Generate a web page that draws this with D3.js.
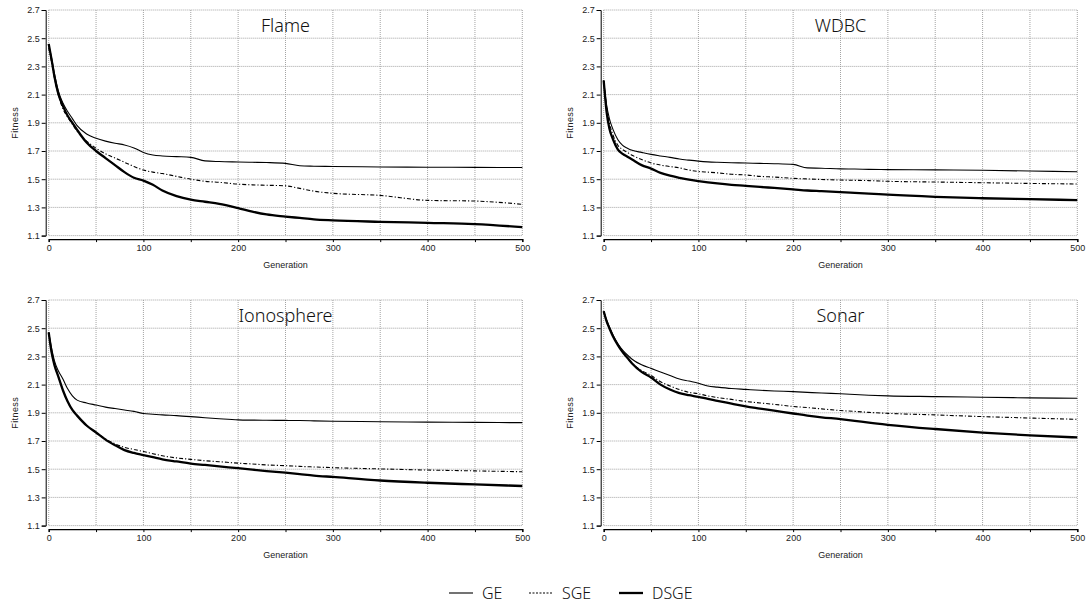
<!DOCTYPE html>
<html>
<head>
<meta charset="utf-8">
<script src="https://cdn.jsdelivr.net/npm/d3@7"></script>
<style>
  html, body { margin: 0; padding: 0; background: #fff; }
  svg { display: block; }
</style>
</head>
<body>
<svg id="chart" width="1088" height="604"></svg>
<script>
// ---------------- DATA ----------------
const datasets = ["Flame", "WDBC", "Ionosphere", "Sonar"];
const seriesNames = ["GE", "SGE", "DSGE"];
const xTicks = [0, 50, 100, 150, 200, 250, 300, 350, 400, 450, 500];
const xTickLabels = ["0", "", "100", "", "200", "", "300", "", "400", "", "500"];
const yTicks = [1.1, 1.3, 1.5, 1.7, 1.9, 2.1, 2.3, 2.5, 2.7];
const yTickLabels = ["1.1", "1.3", "1.5", "1.7", "1.9", "2.1", "2.3", "2.5", "2.7"];

const generations = [0, 3, 6, 10, 15, 20, 25, 30, 40, 50, 60, 70, 80, 90, 100, 110, 120, 135, 150, 165, 180, 200, 215, 230, 250, 265, 280, 300, 350, 400, 450, 500];

const flameGE   = [2.45, 2.36, 2.25, 2.13, 2.04, 1.98, 1.93, 1.88, 1.82, 1.79, 1.77, 1.755, 1.743, 1.722, 1.69, 1.672, 1.665, 1.66, 1.655, 1.63, 1.625, 1.622, 1.62, 1.618, 1.612, 1.595, 1.592, 1.59, 1.587, 1.585, 1.584, 1.583];
const flameSGE  = [2.43, 2.33, 2.22, 2.10, 2.00, 1.94, 1.89, 1.84, 1.77, 1.72, 1.68, 1.65, 1.62, 1.59, 1.565, 1.55, 1.54, 1.52, 1.50, 1.485, 1.478, 1.465, 1.46, 1.457, 1.453, 1.435, 1.415, 1.40, 1.385, 1.35, 1.345, 1.322];
const flameDSGE = [2.46, 2.35, 2.23, 2.11, 2.02, 1.95, 1.90, 1.85, 1.76, 1.70, 1.65, 1.60, 1.55, 1.51, 1.49, 1.46, 1.42, 1.38, 1.355, 1.34, 1.325, 1.295, 1.27, 1.25, 1.235, 1.225, 1.215, 1.208, 1.198, 1.19, 1.182, 1.16];

const wdbcGE    = [2.20, 2.03, 1.93, 1.85, 1.78, 1.74, 1.72, 1.705, 1.69, 1.676, 1.665, 1.655, 1.643, 1.635, 1.628, 1.623, 1.62, 1.617, 1.615, 1.612, 1.61, 1.605, 1.58, 1.578, 1.573, 1.572, 1.57, 1.568, 1.566, 1.563, 1.558, 1.553];
const wdbcSGE   = [2.20, 2.01, 1.90, 1.81, 1.74, 1.71, 1.69, 1.67, 1.64, 1.615, 1.60, 1.59, 1.58, 1.565, 1.555, 1.55, 1.545, 1.535, 1.53, 1.52, 1.515, 1.506, 1.502, 1.498, 1.494, 1.492, 1.49, 1.485, 1.48, 1.475, 1.47, 1.466];
const wdbcDSGE  = [2.20, 1.98, 1.86, 1.78, 1.71, 1.68, 1.66, 1.64, 1.60, 1.575, 1.545, 1.525, 1.51, 1.497, 1.487, 1.478, 1.47, 1.46, 1.453, 1.445, 1.438, 1.428, 1.42, 1.415, 1.408, 1.403, 1.398, 1.39, 1.375, 1.365, 1.358, 1.352];

const ionoGE    = [2.47, 2.36, 2.27, 2.20, 2.14, 2.07, 2.02, 1.99, 1.97, 1.955, 1.94, 1.93, 1.92, 1.91, 1.895, 1.89, 1.885, 1.88, 1.873, 1.865, 1.858, 1.85, 1.848, 1.847, 1.846, 1.845, 1.843, 1.84, 1.837, 1.834, 1.832, 1.83];
const ionoSGE   = [2.47, 2.33, 2.24, 2.16, 2.06, 1.98, 1.92, 1.88, 1.81, 1.76, 1.715, 1.68, 1.655, 1.64, 1.625, 1.61, 1.595, 1.58, 1.57, 1.56, 1.553, 1.543, 1.537, 1.53, 1.525, 1.52, 1.516, 1.511, 1.502, 1.494, 1.488, 1.482];
const ionoDSGE  = [2.47, 2.33, 2.24, 2.16, 2.06, 1.98, 1.92, 1.88, 1.81, 1.76, 1.71, 1.67, 1.635, 1.615, 1.60, 1.585, 1.57, 1.555, 1.54, 1.53, 1.52, 1.507, 1.497, 1.487, 1.475, 1.465, 1.455, 1.445, 1.42, 1.404, 1.392, 1.381];

const sonarGE   = [2.62, 2.56, 2.51, 2.45, 2.39, 2.345, 2.31, 2.28, 2.24, 2.215, 2.19, 2.165, 2.14, 2.125, 2.11, 2.09, 2.082, 2.072, 2.066, 2.06, 2.055, 2.05, 2.045, 2.04, 2.035, 2.03, 2.025, 2.02, 2.015, 2.01, 2.006, 2.003];
const sonarSGE  = [2.62, 2.55, 2.50, 2.44, 2.38, 2.33, 2.29, 2.25, 2.20, 2.165, 2.12, 2.09, 2.065, 2.045, 2.035, 2.02, 2.008, 1.995, 1.98, 1.97, 1.96, 1.945, 1.937, 1.928, 1.916, 1.91, 1.903, 1.896, 1.885, 1.873, 1.863, 1.854];
const sonarDSGE = [2.62, 2.55, 2.50, 2.44, 2.38, 2.33, 2.29, 2.25, 2.19, 2.15, 2.10, 2.065, 2.04, 2.025, 2.013, 1.998, 1.985, 1.965, 1.945, 1.93, 1.915, 1.895, 1.88, 1.868, 1.855, 1.843, 1.83, 1.815, 1.785, 1.76, 1.74, 1.725];

const panelSeries = [
  [flameGE, flameSGE, flameDSGE],
  [wdbcGE, wdbcSGE, wdbcDSGE],
  [ionoGE, ionoSGE, ionoDSGE],
  [sonarGE, sonarSGE, sonarDSGE]
];

// ---------------- STYLE / LAYOUT ----------------
const seriesStyle = [
  { width: 1.1, dash: null },
  { width: 1.1, dash: "4,2,1.2,2" },
  { width: 2.3, dash: null }
];
const panelLeft = [48.7, 603.7];
const panelTop = [10, 300];
const plotW = 473.6, plotH = 225.6;
const tickFont = "'Liberation Sans', Arial, Helvetica, sans-serif";
const titleFont = "'Noto Sans', 'Open Sans', sans-serif";

const svg = d3.select("#chart");

datasets.forEach((name, i) => {
  const col = i % 2, row = Math.floor(i / 2);
  const left = panelLeft[col], top = panelTop[row];
  const g = svg.append("g").attr("transform", `translate(${left},${top})`);

  const x = d3.scaleLinear().domain([0, 500]).range([0, plotW]);
  const y = d3.scaleLinear().domain([1.1, 2.7]).range([plotH, 0]);

  // grid
  const grid = g.append("g").attr("stroke", "#9a9a9a").attr("stroke-width", 0.9).attr("stroke-dasharray", "1,1");
  grid.selectAll("line.h").data(yTicks).join("line")
    .attr("x1", 0).attr("x2", plotW)
    .attr("y1", d => y(d)).attr("y2", d => y(d));
  grid.selectAll("line.v").data(xTicks).join("line")
    .attr("y1", 0).attr("y2", plotH)
    .attr("x1", d => x(d)).attr("x2", d => x(d));

  // y axis
  const yAxis = d3.axisLeft(y).tickValues(yTicks)
    .tickFormat((d, k) => yTickLabels[k]).tickSize(4).tickPadding(2);
  const ya = g.append("g").attr("transform", "translate(-3,0)").call(yAxis);
  ya.select(".domain").attr("stroke", "#000");
  ya.selectAll("text").attr("font-family", tickFont).attr("font-size", 9).attr("fill", "#222");

  // x axis
  const xAxis = d3.axisBottom(x).tickValues(xTicks)
    .tickFormat((d, k) => xTickLabels[k]).tickSize(3).tickPadding(3);
  const xa = g.append("g").attr("transform", `translate(0,${plotH + 3.5})`).call(xAxis);
  xa.select(".domain").attr("stroke", "#000").attr("stroke-width", 1.3);
  xa.selectAll("text").attr("font-family", tickFont).attr("font-size", 9).attr("fill", "#222");

  // axis titles
  g.append("text")
    .attr("x", plotW / 2).attr("y", plotH + 32.5)
    .attr("text-anchor", "middle")
    .attr("font-family", tickFont).attr("font-size", 9).attr("fill", "#222")
    .text("Generation");
  g.append("text")
    .attr("transform", `translate(${-31},${plotH / 2}) rotate(-90)`)
    .attr("text-anchor", "middle")
    .attr("font-family", tickFont).attr("font-size", 9).attr("fill", "#222")
    .attr("letter-spacing", 0.4)
    .text("Fitness");

  // title
  g.append("text")
    .attr("x", plotW / 2).attr("y", 22)
    .attr("text-anchor", "middle")
    .attr("font-family", titleFont).attr("font-size", 18).attr("font-weight", 300).attr("fill", "#111")
    .text(name);

  // lines
  const line = d3.line()
    .x((d, k) => x(generations[k]))
    .y(d => y(d))
    .curve(d3.curveMonotoneX);
  panelSeries[i].forEach((vals, s) => {
    g.append("path")
      .attr("d", line(vals))
      .attr("fill", "none")
      .attr("stroke", "#000")
      .attr("stroke-width", seriesStyle[s].width)
      .attr("stroke-dasharray", seriesStyle[s].dash)
      .attr("stroke-linejoin", "round");
  });
});

// legend
const legendX = [449, 529, 619];
const legend = svg.append("g").attr("transform", "translate(0,593)");
seriesNames.forEach((n, s) => {
  legend.append("line")
    .attr("x1", legendX[s]).attr("x2", legendX[s] + 24)
    .attr("y1", 0).attr("y2", 0)
    .attr("stroke", "#000")
    .attr("stroke-width", seriesStyle[s].width)
    .attr("stroke-dasharray", s === 1 ? "2,1.5" : null);
  legend.append("text")
    .attr("x", legendX[s] + 33).attr("y", 6)
    .attr("font-family", titleFont).attr("font-size", 16).attr("font-weight", 300).attr("fill", "#111")
    .text(n);
});
</script>
</body>
</html>
